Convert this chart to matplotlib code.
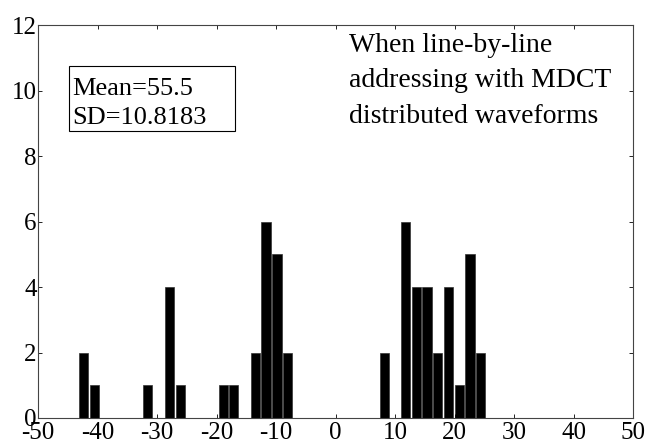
import numpy as np
import matplotlib.pyplot as plt
from matplotlib.patches import Rectangle

# histogram bins
centers = [-42.35, -40.55, -31.55, -27.9, -26.1, -18.9, -17.1, -13.5, -11.7, -9.85, -8.05,
           8.2, 11.75, 13.55, 15.35, 17.15, 18.95, 20.8, 22.6, 24.4]
counts = [2, 1, 1, 4, 1, 1, 1, 2, 6, 5, 2,
          2, 6, 4, 4, 2, 4, 1, 5, 2]
xticks = [-50, -40, -30, -20, -10, 0, 10, 20, 30, 40, 50]
yticks = [0, 2, 4, 6, 8, 10, 12]
stats_text = "Mean=55.5\nSD=10.8183"
note_text = "When line-by-line\naddressing with MDCT\ndistributed waveforms"

plt.rcParams['font.family'] = ['Liberation Serif', 'DejaVu Serif']
plt.rcParams['axes.unicode_minus'] = False

fig = plt.figure(figsize=(6.46, 4.48), dpi=100)
ax = fig.add_axes([0.059, 0.067, 0.921, 0.877])

ax.bar(centers, counts, width=1.55, color='black', edgecolor='#333333', linewidth=0.5)

ax.set_xlim(-50, 50)
ax.set_ylim(0, 12)
ax.set_xticks(xticks)
ax.set_yticks(yticks)
ax.tick_params(direction='in', length=3, width=0.6, top=True, right=True,
               labelsize=18, pad=1, colors='black')
ax.tick_params(axis='x', pad=3)
for s in ax.spines.values():
    s.set_linewidth(0.8)
    s.set_color('#444444')

# text box (fixed size like the original textbox)
ax.add_patch(Rectangle((-44.8, 8.76), 27.9, 1.99, fill=False, ec='black', lw=0.8, zorder=3))
ax.text(-44.2, 9.6, stats_text, fontsize=19, va='center', ha='left', linespacing=1.45)
ax.text(2.3, 10.3, note_text, fontsize=20, va='center', ha='left', linespacing=1.55)

fig.savefig('out.png', dpi=100)
